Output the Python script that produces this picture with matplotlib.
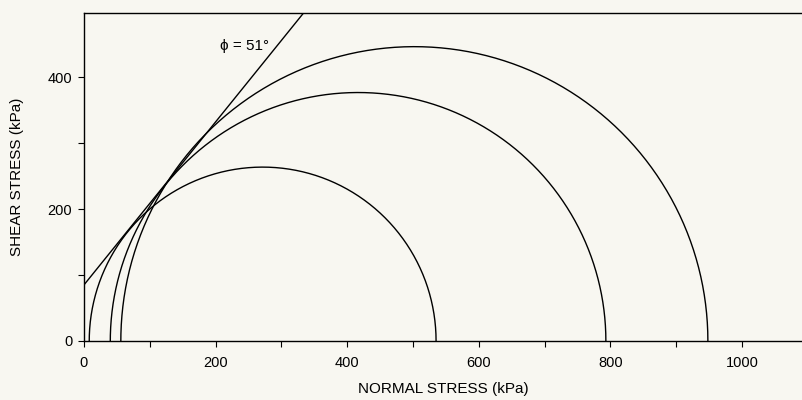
import matplotlib.pyplot as plt
import numpy as np

plt.rcParams['font.family'] = ['Liberation Sans', 'DejaVu Sans']
plt.rcParams['xtick.labelsize'] = 10.5
plt.rcParams['ytick.labelsize'] = 10.5

# Mohr circles: minor / major principal stresses (kPa)
sigma3 = [8, 40, 56]
sigma1 = [535, 793, 948]

# Failure envelope
cohesion = 85      # kPa
phi_deg = 51

bg = '#f8f7f1'
fig = plt.figure(figsize=(8.02, 4.0), dpi=100, facecolor=bg)
ax = fig.add_axes([0.1047, 0.1475, 0.8953, 0.82])
ax.set_facecolor(bg)

theta = np.linspace(0, np.pi, 400)
for s3, s1 in zip(sigma3, sigma1):
    c = (s1 + s3) / 2
    r = (s1 - s3) / 2
    ax.plot(c + r * np.cos(theta), r * np.sin(theta), color='black', lw=1.0)

xs = np.array([0, 400])
ax.plot(xs, cohesion + xs * np.tan(np.radians(phi_deg)), color='black', lw=1.0)
ax.text(281, 447, '\u03d5 = 51\u00b0', ha='right', va='center', fontsize=11)

ax.set_xlim(0, 1091)
ax.set_ylim(0, 497)
ax.set_xticks(np.arange(0, 1100, 100))
ax.set_xticklabels([str(v) if v % 200 == 0 else '' for v in range(0, 1100, 100)])
ax.set_yticks(np.arange(0, 500, 100))
ax.set_yticklabels([str(v) if v % 200 == 0 else '' for v in range(0, 500, 100)])
ax.tick_params(direction='out', length=4.5, width=0.8, color='black')
ax.tick_params(axis='x', pad=6)
ax.tick_params(axis='y', pad=4)
ax.spines['right'].set_visible(False)
for s in ['left', 'bottom', 'top']:
    ax.spines[s].set_linewidth(1.0)

ax.set_xlabel('NORMAL STRESS (kPa)', fontsize=11, labelpad=9)
ax.set_ylabel('SHEAR STRESS (kPa)', fontsize=11, labelpad=17)

fig.savefig('out.png', dpi=100, facecolor=bg)
